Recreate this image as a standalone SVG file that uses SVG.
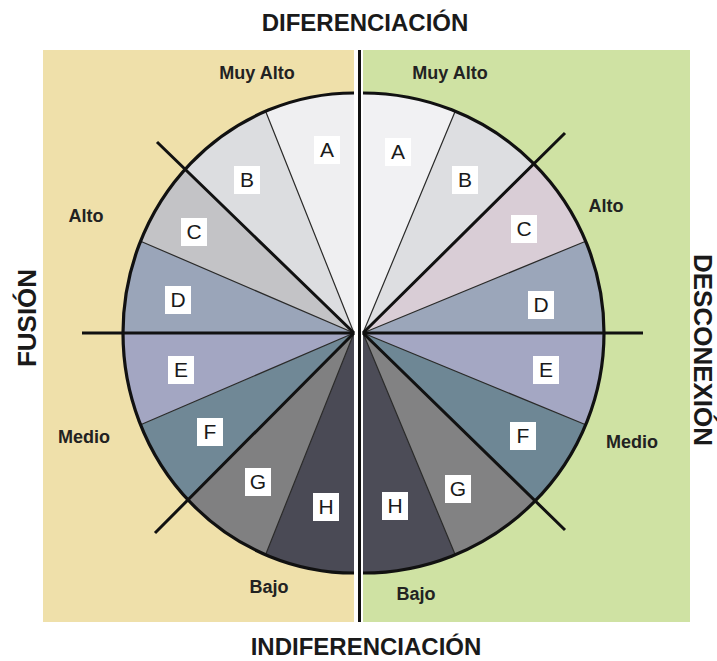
<svg xmlns="http://www.w3.org/2000/svg" width="717" height="661" viewBox="0 0 717 661">
<style>
.title{font-family:"Liberation Sans",Arial,sans-serif;font-weight:bold;font-size:24px;fill:#1a1a1a;text-anchor:middle}
.vt{font-family:"Liberation Sans",Arial,sans-serif;font-weight:bold;font-size:26px;fill:#1a1a1a;text-anchor:middle}
.lvl{font-family:"Liberation Sans",Arial,sans-serif;font-weight:bold;font-size:18px;fill:#222;text-anchor:middle}
.lab rect{fill:#ffffff}
.lab text{font-family:"Liberation Sans",Arial,sans-serif;font-size:21px;fill:#1a1a1a;text-anchor:middle}
.thin{stroke:#2a2a2a;stroke-width:1.2;fill:none}
.thick{stroke:#111;stroke-width:3;fill:none;stroke-linecap:butt}
.rim{stroke:#111;stroke-width:3.2;fill:none}
</style>
<rect x="0" y="0" width="717" height="661" fill="#ffffff"/>
<rect id="panel-fusion" x="43" y="50" width="311" height="572" fill="#efe0aa"/>
<rect id="panel-desconexion" x="363" y="50" width="327" height="572" fill="#cfe2a3"/>

<g id="sectors-left">
<g id="L-A"><path d="M354,333 L354,93 A231,240 0 0 0 265.6,111.3 Z" fill="#efeff1"/></g>
<g id="L-B"><path d="M354,333 L265.6,111.3 A231,240 0 0 0 185.2,169.3 Z" fill="#dcdde0"/></g>
<g id="L-C"><path d="M354,333 L185.2,169.3 A231,240 0 0 0 140.6,241.2 Z" fill="#c3c3c6"/></g>
<g id="L-D"><path d="M354,333 L140.6,241.2 A231,240 0 0 0 123,333 Z" fill="#9aa5b9"/></g>
<g id="L-E"><path d="M354,333 L123,333 A231,240 0 0 0 140.6,424.8 Z" fill="#a3a6c2"/></g>
<g id="L-F"><path d="M354,333 L140.6,424.8 A231,240 0 0 0 188,499.9 Z" fill="#708896"/></g>
<g id="L-G"><path d="M354,333 L188,499.9 A231,240 0 0 0 265.6,554.7 Z" fill="#808081"/></g>
<g id="L-H"><path d="M354,333 L265.6,554.7 A231,240 0 0 0 354,573 Z" fill="#4a4a55"/></g>
</g>
<g id="sectors-right">
<g id="R-A"><path d="M363,333 L363,93 A241,240 0 0 1 455.2,111.3 Z" fill="#f1f1f3"/></g>
<g id="R-B"><path d="M363,333 L455.2,111.3 A241,240 0 0 1 533.9,163.8 Z" fill="#dddee1"/></g>
<g id="R-C"><path d="M363,333 L533.9,163.8 A241,240 0 0 1 585.7,241.2 Z" fill="#d9cdd6"/></g>
<g id="R-D"><path d="M363,333 L585.7,241.2 A241,240 0 0 1 604,333 Z" fill="#9ba6ba"/></g>
<g id="R-E"><path d="M363,333 L604,333 A241,240 0 0 1 585.7,424.8 Z" fill="#a4a7c3"/></g>
<g id="R-F"><path d="M363,333 L585.7,424.8 A241,240 0 0 1 535.2,500.9 Z" fill="#6e8795"/></g>
<g id="R-G"><path d="M363,333 L535.2,500.9 A241,240 0 0 1 455.2,554.7 Z" fill="#828283"/></g>
<g id="R-H"><path d="M363,333 L455.2,554.7 A241,240 0 0 1 363,573 Z" fill="#4c4c57"/></g>
</g>

<g id="connectors">
<path class="thin" d="M354,333 L265.6,111.3 M354,333 L140.6,241.2 M354,333 L140.6,424.8 M354,333 L265.6,554.7"/>
<path class="thin" d="M363,333 L455.2,111.3 M363,333 L585.7,241.2 M363,333 L585.7,424.8 M363,333 L455.2,554.7"/>
<path class="rim" d="M354,93 A231,240 0 0 0 123,333 A231,240 0 0 0 354,573"/>
<path class="rim" d="M363,93 A241,240 0 0 1 604,333 A241,240 0 0 1 363,573"/>
<path class="thick" d="M354,333 L157,142 M354,333 L155,533"/>
<path class="thick" d="M363,333 L565,133 M363,333 L565,530"/>
<path class="thick" d="M82,333 L354,333 M363,333 L643,333"/>
<path class="thick" d="M359.5,50 L359.5,622"/>
</g>

<g id="labels" class="lab">
<g id="lab-L-A"><rect x="314" y="136" width="26" height="28"/><text x="327" y="157">A</text></g>
<g id="lab-L-B"><rect x="234" y="166" width="26" height="28"/><text x="247" y="187">B</text></g>
<g id="lab-L-C"><rect x="181" y="218" width="26" height="28"/><text x="194" y="239">C</text></g>
<g id="lab-L-D"><rect x="165" y="286" width="26" height="28"/><text x="178" y="307">D</text></g>
<g id="lab-L-E"><rect x="168" y="356" width="26" height="28"/><text x="181" y="377">E</text></g>
<g id="lab-L-F"><rect x="197" y="418" width="26" height="28"/><text x="210" y="439">F</text></g>
<g id="lab-L-G"><rect x="245" y="468" width="26" height="28"/><text x="258" y="489">G</text></g>
<g id="lab-L-H"><rect x="313" y="493" width="26" height="28"/><text x="326" y="514">H</text></g>
<g id="lab-R-A"><rect x="385" y="138" width="26" height="28"/><text x="398" y="159">A</text></g>
<g id="lab-R-B"><rect x="452" y="166" width="26" height="28"/><text x="465" y="187">B</text></g>
<g id="lab-R-C"><rect x="511" y="215" width="26" height="28"/><text x="524" y="236">C</text></g>
<g id="lab-R-D"><rect x="528" y="291" width="26" height="28"/><text x="541" y="312">D</text></g>
<g id="lab-R-E"><rect x="533" y="356" width="26" height="28"/><text x="546" y="377">E</text></g>
<g id="lab-R-F"><rect x="510" y="422" width="26" height="28"/><text x="523" y="443">F</text></g>
<g id="lab-R-G"><rect x="445" y="475" width="26" height="28"/><text x="458" y="496">G</text></g>
<g id="lab-R-H"><rect x="382" y="492" width="26" height="28"/><text x="395" y="513">H</text></g>
</g>

<g id="levels">
<text class="lvl" x="257" y="79">Muy Alto</text>
<text class="lvl" x="450" y="79">Muy Alto</text>
<text class="lvl" x="86" y="222">Alto</text>
<text class="lvl" x="606" y="212">Alto</text>
<text class="lvl" x="84" y="443">Medio</text>
<text class="lvl" x="632" y="448">Medio</text>
<text class="lvl" x="269" y="593">Bajo</text>
<text class="lvl" x="416" y="600">Bajo</text>
</g>

<g id="titles">
<text class="title" x="365" y="31">DIFERENCIACIÓN</text>
<text class="title" x="366" y="655">INDIFERENCIACIÓN</text>
<text class="vt" transform="translate(36,318) rotate(-90)">FUSIÓN</text>
<text class="vt" transform="translate(694,350) rotate(90)">DESCONEXIÓN</text>
</g>
</svg>
